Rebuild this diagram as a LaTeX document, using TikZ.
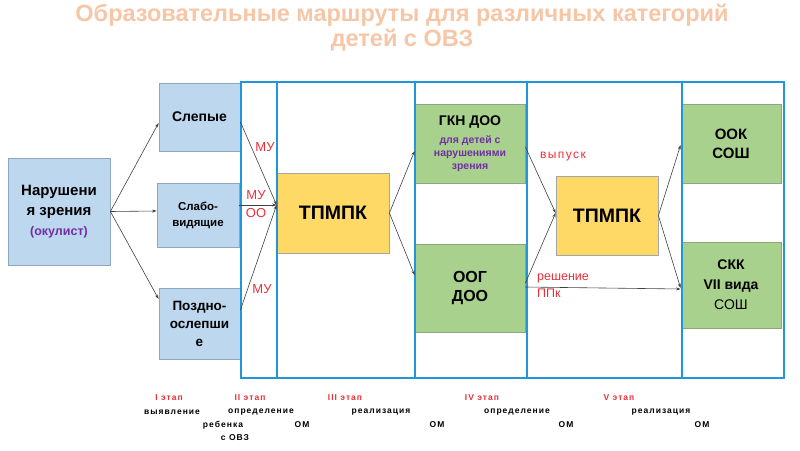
\documentclass[tikz,border=0pt]{standalone}
\usepackage{fontspec}
\setmainfont{Liberation Sans}
\newfontfamily\spacedfont[LetterSpace=12]{Liberation Sans}
\usetikzlibrary{arrows.meta}

\newcommand{\fsz}[2]{\fontsize{#1}{#2}\selectfont}

\begin{document}
\begin{tikzpicture}[x=1pt, y=-1pt,
  bluebox/.style={draw=boxedge, fill=boxblue, line width=0.8pt, align=center, inner sep=0pt, font=\bfseries},
  yelbox/.style={draw=gray!70, fill=boxyellow, line width=0.8pt, align=center, inner sep=0pt, font=\bfseries},
  grnbox/.style={draw=greenedge, fill=boxgreen, line width=0.8pt, align=center, inner sep=0pt, font=\bfseries},
  frame/.style={draw=frameblue, line width=1.8pt},
  arr/.style={-{Stealth[length=4.5pt, width=3pt]}, draw=black!75, line width=0.6pt},
  lbl/.style={text=labelred, inner sep=0pt, font=\fsz{13}{16}},
  stagetxt/.style={inner sep=0pt, font=\spacedfont\bfseries\fsz{8.5}{10}}]
  \colorlet{frameblue}{cyan!75!blue!90}
  \definecolor{boxblue}{HTML}{BDD7EE}
  \definecolor{boxedge}{HTML}{8FA6BF}
  \definecolor{boxyellow}{HTML}{FFD966}
  \definecolor{boxgreen}{HTML}{A9D18E}
  \definecolor{greenedge}{HTML}{8CA77A}
  \definecolor{oculist}{HTML}{7030A0}
  \definecolor{labelred}{HTML}{E8303A}
  \definecolor{titlepeach}{HTML}{F6C6A6}

  \useasboundingbox (0,0) rectangle (800,450);

  %--- Title ---
  \node[text=titlepeach, align=center, inner sep=0pt, font=\bfseries\fsz{23.5}{25}] (title) at (402,28)
    {Образовательные маршруты для различных категорий\\детей с ОВЗ};

  %--- Vision group (column I) ---
  \node[bluebox, minimum width=102, minimum height=107, font=\bfseries\fsz{15}{20}] (eye) at (59,211.5)
    {Нарушени\\я зрения\\{\color{oculist}\fsz{12.5}{16}(окулист)}};
  \node[bluebox, minimum width=81, minimum height=68, font=\bfseries\fsz{14}{17}] (blind) at (199.5,117) {Слепые};
  \node[bluebox, minimum width=82, minimum height=64, font=\bfseries\fsz{11.5}{16}] (weak) at (198,215) {Слабо-\\видящие};
  \node[bluebox, minimum width=81, minimum height=71, font=\bfseries\fsz{13.5}{18}] (late) at (199.5,323.5) {Поздно-\\ослепши\\е};

  %--- Commissions ---
  \node[yelbox, minimum width=112, minimum height=80, font=\bfseries\fsz{19.5}{20}] (tp1) at (333,213) {ТПМПК};
  \node[yelbox, minimum width=102, minimum height=79, font=\bfseries\fsz{19.5}{20}] (tp2) at (607,215.5) {ТПМПК};

  %--- Groups and schools ---
  \node[grnbox, minimum width=110, minimum height=79, text=oculist, font=\bfseries\fsz{10.5}{13}] (gkn) at (470,143.5)
    {{\color{black}\fsz{14}{17}ГКН ДОО}\\[5pt]для детей с\\нарушениями\\зрения};
  \node[grnbox, minimum width=110, minimum height=88, font=\bfseries\fsz{16}{19}] (oog) at (470,288) {ООГ\\ДОО};
  \node[grnbox, minimum width=100, minimum height=79, font=\bfseries\fsz{15}{19}] (ook) at (731,143.5) {ООК\\СОШ};
  \node[grnbox, minimum width=100, minimum height=86, font=\bfseries\fsz{14}{20}] (skk) at (731,285)
    {СКК\\VII вида\\\mdseries СОШ};

  %--- Stage columns ---
  \draw[frame] (241,82) rectangle (784,378);
  \foreach \xx in {277,415,527,682} { \draw[frame] (\xx,82) -- (\xx,378); }

  %--- Arrows: diagnosis to groups ---
  \draw[arr] (eye.east) -- ([yshift=-6pt]blind.west);
  \draw[arr] (eye.east) -- ([yshift=4pt]weak.west);
  \draw[arr] (eye.east) -- ([yshift=24.5pt]late.west);

  %--- Arrows: groups to first ТПМПК ---
  \coordinate (tp1in) at ([yshift=8pt]tp1.west);
  \draw[arr] ([yshift=-5pt]blind.east) -- (tp1in);
  \draw[arr] ([yshift=10pt]weak.east) -- (tp1in);
  \draw[arr] ([yshift=13.5pt]late.east) -- (tp1in);
  \node[lbl] (mu1) at (265,147) {МУ};
  \node[lbl, align=center, font=\fsz{13}{18}] (muoo) at (256,204) {МУ\\ОО};
  \node[lbl] (mu3) at (262,289) {МУ};

  %--- Arrows: first ТПМПК to groups ---
  \draw[arr] (tp1.east) -- ([yshift=-7.5pt]gkn.west);
  \draw[arr] (tp1.east) -- ([yshift=13pt]oog.west);

  %--- Arrows: groups to second ТПМПК and schools ---
  \coordinate (tp2in) at ([yshift=2.5pt]tp2.west);
  \draw[arr] ([yshift=-3.5pt]gkn.east) -- (tp2in);
  \draw[arr] ([yshift=5pt]oog.east) -- (tp2in);
  \draw[arr] ([yshift=1pt]oog.east) -- ([yshift=-4pt]skk.west);
  \draw[arr] (tp2.east) -- ([yshift=-1.5pt]ook.west);
  \draw[arr] (tp2.east) -- ([yshift=-3pt]skk.west);
  \node[lbl, font=\spacedfont\fsz{12}{15}] (vyp) at (563,157) {выпуск};
  \node[lbl, anchor=west, align=left, font=\fsz{12.5}{17}] (resh) at (537,286) {решение\\ППк};

  %--- Stages along the bottom ---
  \foreach \nm/\xx/\tx in {s1/169/I этап, s2/250/II этап, s3/345/III этап, s4/482/IV этап, s5/619/V этап} {
    \node[stagetxt, text=labelred] (\nm) at (\xx,398) {\tx};
  }
  \foreach \nm/\xx/\tx in {d1/172/выявление, d2/261/определение, d3/381/реализация, d4/517/определение, d5/661/реализация} {
    \node[stagetxt] (\nm) at (\xx,412) {\tx};
  }
  \foreach \nm/\xx/\tx in {r1/223/ребенка, om1/302/ОМ, om2/437/ОМ, om3/566/ОМ, om4/702/ОМ} {
    \node[stagetxt] (\nm) at (\xx,425) {\tx};
  }
  \node[stagetxt] (ovz) at (235,438) {с ОВЗ};

\end{tikzpicture}
\end{document}
